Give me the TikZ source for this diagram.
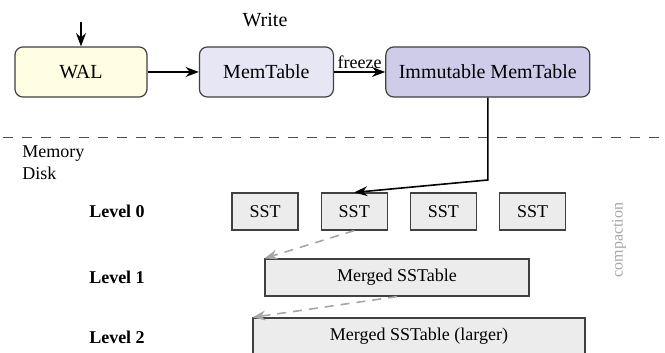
\documentclass[tikz,border=0pt]{standalone}
\usepackage{fontspec}
\setmainfont{Liberation Serif}
\usepackage{xcolor}
\usepackage{tikz}
\usetikzlibrary{arrows.meta, positioning}

\definecolor{walfill}{HTML}{FFFDE2}
\definecolor{memfill}{HTML}{E7E6F5}
\definecolor{immfill}{HTML}{CECCE8}

\begin{document}
\begin{tikzpicture}[node distance=0.9cm and 0.9cm]
  \tikzset{
    membox/.style={rectangle, rounded corners=4pt, draw=black!75, line width=0.6pt,
                   minimum height=0.88cm, text centered, align=center, font=\normalsize},
    sstbox/.style={rectangle, draw=black!75, line width=0.6pt, fill=gray!15,
                   minimum height=0.65cm, text centered, font=\small},
    lvl/.style={font=\small\bfseries},
    arr/.style={-Stealth, thick},
    garr/.style={-Stealth, thick, gray!70, dash pattern=on 4.5pt off 3.5pt}
  }
  \useasboundingbox (0,0) rectangle (11.686,-6.203);
  % Write path (memory)
  \node[membox, fill=walfill, minimum width=2.32cm] (wal) at (1.423,-1.265) {WAL};
  \node[membox, fill=memfill, minimum width=2.355cm, right=of wal] (mem) {MemTable};
  \node[membox, fill=immfill, minimum width=3.585cm, right=of mem] (imm) {Immutable MemTable};
  \node (write) at (4.657,-0.351) {Write};
  \coordinate (inp) at (1.423,-0.387);
  % Memory / disk boundary
  \coordinate (sepL) at (0.053,-2.407);
  \coordinate (sepR) at (11.633,-2.407);
  \node[font=\small, align=left, anchor=west, inner sep=0pt] (memdisk) at (0.387,-2.864) {Memory\\Disk};
  % Disk levels
  \node[lvl] (lv0) at (2.056,-3.717) {Level 0};
  \node[lvl] (lv1) at (2.056,-4.877) {Level 1};
  \node[lvl] (lv2) at (2.056,-5.922) {Level 2};
  \node[sstbox, minimum width=1.16cm] (sst1) at (4.657,-3.717) {SST};
  \node[sstbox, minimum width=1.16cm, right=0.387cm of sst1] (sst2) {SST};
  \node[sstbox, minimum width=1.16cm, right=0.387cm of sst2] (sst3) {SST};
  \node[sstbox, minimum width=1.16cm, right=0.387cm of sst3] (sst4) {SST};
  \node[sstbox, minimum width=4.639cm] (l1) at (6.976,-4.877) {Merged SSTable};
  \node[sstbox, minimum width=5.834cm] (l2) at (7.363,-5.913) {Merged SSTable (larger)};
  \node[rotate=90, font=\footnotesize, text=gray!70] (compact) at (10.878,-4.218) {compaction};
  \coordinate (flush) at (imm.south |- 0,-3.163);
  % Arrows
  \draw[dashed, black!70, dash pattern=on 5pt off 4.5pt] (sepL) -- (sepR);
  \draw[arr] (inp) -- (wal);
  \draw[arr] (wal) -- (mem);
  \draw[arr] (mem) -- node[above, font=\small, inner sep=1.5pt] {freeze} (imm);
  \draw[arr] (imm.south) -- (flush) -- (sst2.north);
  \draw[garr] (sst2.south) -- (l1.north west);
  \draw[garr] (l1.south) -- (l2.north west);
\end{tikzpicture}
\end{document}
